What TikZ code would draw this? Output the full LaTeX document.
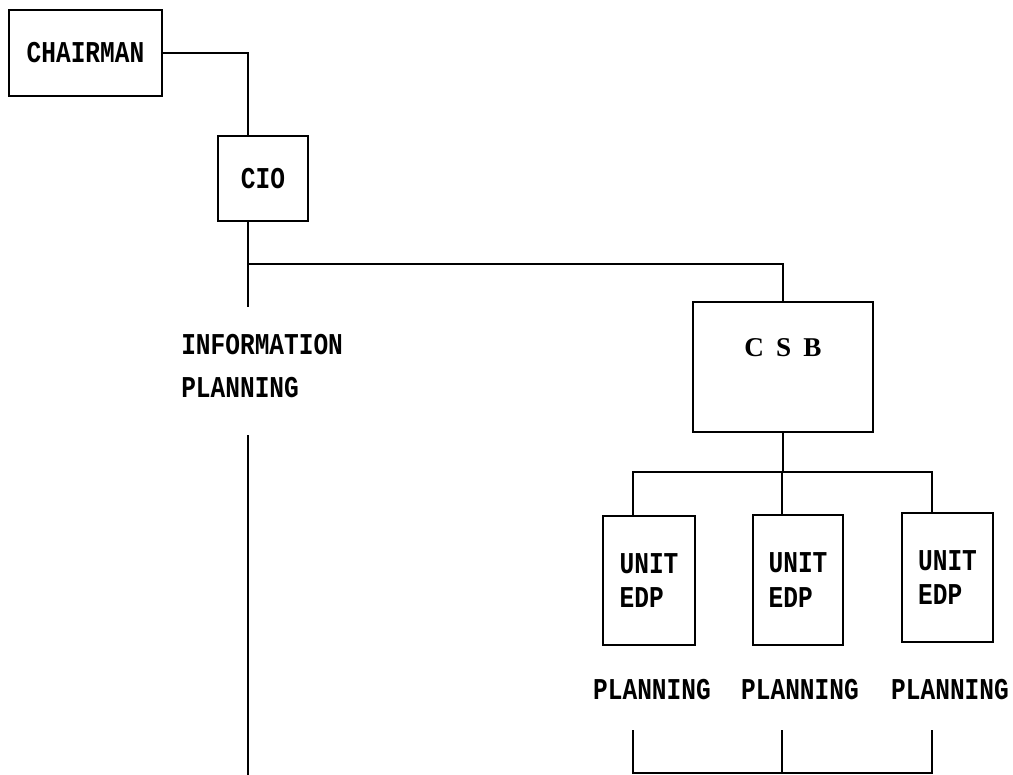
\documentclass[tikz,border=0pt]{standalone}
\usepackage{fontspec}
\newfontfamily\prfont{Liberation Mono}[FakeStretch=0.81]
\newfontfamily\csbfont{Liberation Serif}
\usepackage{tikz}
\usetikzlibrary{positioning}

\begin{document}
\begin{tikzpicture}[x=0.025cm,y=-0.025cm,
      box/.style={rectangle,draw,line width=1.4pt,align=left,inner sep=0pt,
                  font=\prfont\bfseries\fontsize{21.5}{24.8}\selectfont},
      lab/.style={align=left,inner sep=0pt,font=\prfont\bfseries\fontsize{21.5}{30.5}\selectfont},
      wire/.style={line width=1.4pt}]
    \useasboundingbox (0,0) rectangle (1013,775);
    \node[box,minimum width=3.825cm,minimum height=2.15cm] (chair) at (85.5,53) {CHAIRMAN};
    \node[box,minimum width=2.25cm,minimum height=2.125cm] (cio) at (263,178.5) {CIO};
    \node[lab,anchor=west] (infoplan) at (181,366) {INFORMATION\\PLANNING};
    \node[box,minimum width=4.5cm,minimum height=3.25cm,
          label={[font=\csbfont\bfseries\fontsize{19.3}{22}\selectfont,yshift=0.475cm]center:C\hspace{0.45em}S\hspace{0.45em}B}] (csb) at (783,367) {};
    \node[box,minimum width=2.3cm,minimum height=3.225cm] (unit1) at (649,580.5) {UNIT\\EDP};
    \node[box,minimum width=2.25cm,minimum height=3.25cm] (unit2) at (798,580) {UNIT\\EDP};
    \node[box,minimum width=2.275cm,minimum height=3.225cm] (unit3) at (947.5,577.5) {UNIT\\EDP};
    \node[lab] (plan1) at (652,690) {PLANNING};
    \node[lab] (plan2) at (800,690) {PLANNING};
    \node[lab] (plan3) at (950,690) {PLANNING};
    % trunk on the left
    \coordinate (split) at (248,264);
    \coordinate (gaptop) at (248,307);
    \coordinate (gapbot) at (248,435);
    \coordinate (trunkend) at (248,775);
    \draw[wire] (chair.east) -| (split |- cio.north);
    \draw[wire] (split |- cio.south) -- (gaptop);
    \draw[wire] (split) -| (csb.north);
    \draw[wire] (gapbot) -- (trunkend);
    % branches below CSB
    \coordinate (fork) at (782,472);
    \foreach \i/\x in {1/633,2/782,3/932}
      \coordinate (col\i) at (\x,730);
    \coordinate (base) at (782,773);
    \draw[wire] (csb.south) -- (csb.south |- fork);
    \draw[wire] (col1 |- unit1.north) |- (fork) -| (col3 |- unit3.north);
    \draw[wire] (fork) -- (col2 |- unit2.north);
    \draw[wire] (col1) |- (base) -| (col3);
    \draw[wire] (col2) -- (base);
  \end{tikzpicture}
\end{document}
